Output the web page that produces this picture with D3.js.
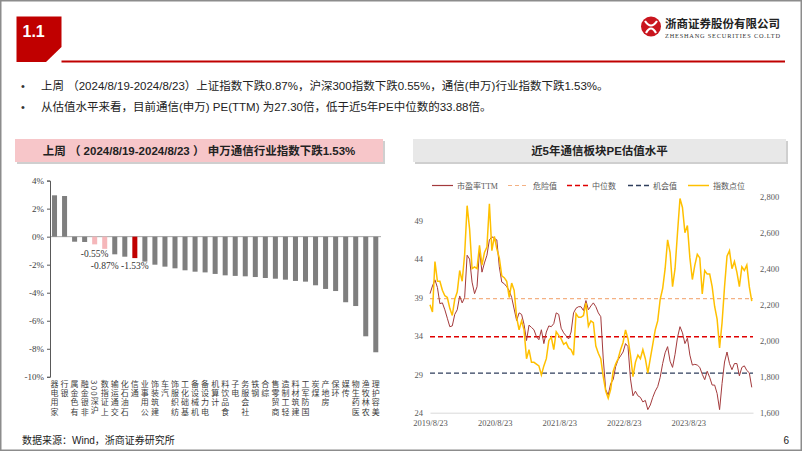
<!DOCTYPE html>
<html lang="zh">
<head>
<meta charset="UTF-8" />
<title>通信行业周报</title>
<script src="https://d3js.org/d3.v7.min.js"></script>
<style>
  body { margin: 0; background: #fff; }
  svg { display: block; font-family: "Liberation Sans", "Noto Sans CJK SC", sans-serif; }
</style>
</head>
<body>
<svg width="802" height="451"></svg>
<script>
// 左图：申万一级行业及指数周涨跌幅（%）
const industries = ["家用电器", "银行", "有色金属", "非银金融", "沪深300", "上证指数", "交通运输", "石油石化",
  "通信", "公用事业", "建筑装饰", "汽车", "纺织服饰", "基础化工", "机械设备", "电力设备", "计算机",
  "食品饮料", "电子", "社会服务", "钢铁", "综合", "商贸零售", "轻工制造", "建筑材料", "国防军工",
  "煤炭", "房地产", "环保", "传媒", "医药生物", "农林牧渔", "美容护理"];
const weeklyChange = [2.95, 2.9, -0.36, -0.38, -0.55, -0.87, -1.26, -1.43,
  -1.53, -1.78, -2.0, -2.14, -2.26, -2.4, -2.5, -2.55, -2.66,
  -2.76, -2.8, -2.83, -2.88, -2.95, -3.0, -3.07, -3.16, -3.21,
  -3.47, -3.73, -3.88, -4.68, -4.95, -7.11, -8.25];
const barTicks = [4, 2, 0, -2, -4, -6, -8, -10];
const labelled = ["沪深300", "上证指数", "通信"];

// 右图：近5年通信板块PE(TTM)与指数点位（双周取值）
const seriesStart = "2019-08-23";
const peTTM = [39.5, 40.5, 41.3, 40.3, 38.2, 38.3, 37.4, 36.3, 35.2, 35.3,
  36.8, 37.4, 39.2, 38.3, 39.0, 44.5, 44.0, 41.0, 39.5, 40.4,
  45.2, 42.3, 43.5, 44.5, 46.5, 46.9, 46.7, 46.5, 43.0, 41.0,
  40.8, 40.4, 39.9, 39.0, 37.5, 36.0, 37.0, 36.8, 35.5, 33.4,
  35.4, 35.1, 34.8, 33.9, 33.5, 34.8, 33.0, 34.5, 35.3, 35.2,
  35.6, 37.0, 36.8, 35.0, 34.4, 34.0, 33.6, 34.5, 37.0, 37.6,
  37.8, 37.8, 37.3, 38.6, 37.4, 37.9, 38.3, 37.8, 37.0, 36.5,
  31.0, 27.0, 26.3, 27.8, 28.3, 30.0, 30.9, 31.4, 31.9, 33.0,
  32.6, 28.4, 26.2, 26.8, 26.2, 26.0, 25.4, 25.6, 24.4, 25.0,
  26.0, 26.8, 27.4, 28.6, 30.4, 31.8, 32.6, 30.7, 29.9, 31.6,
  33.8, 35.2, 34.4, 33.0, 33.7, 31.5, 30.2, 30.3, 30.2, 29.9,
  29.0, 28.3, 29.4, 28.6, 27.6, 27.6, 26.5, 24.4, 27.8, 30.6,
  31.9, 30.4, 29.6, 30.4, 30.4, 28.8, 29.9, 30.1, 29.5, 29.2,
  27.3];
const indexPts = [2200, 2160, 2440, 2330, 2330, 2280, 2250, 2240, 2180, 2140,
  2230, 2270, 2390, 2330, 2480, 2750, 2620, 2400, 2410, 2400,
  2530, 2420, 2490, 2520, 2760, 2500, 2580, 2510, 2460, 2360,
  2350, 2330, 2240, 2320, 2280, 2130, 2060, 2110, 2060, 1900,
  1950, 1880, 1880, 1870, 1860, 1810, 1860, 1900, 2000, 2020,
  1950, 2050, 2030, 2010, 1980, 1990, 1960, 1950, 1920, 2150,
  2130, 2130, 2140, 2210, 2080, 2110, 2100, 1970, 1930, 1900,
  1800, 1720, 1680, 1730, 1830, 1870, 1900, 1950, 1990, 2060,
  2010, 1920, 1800, 1880, 1920, 1900, 1950, 1900, 1820, 1900,
  1980, 2060, 2110, 2230, 2290, 2400, 2560, 2490, 2300, 2400,
  2600, 2790, 2740, 2600, 2640, 2460, 2340, 2420, 2480, 2460,
  2260, 2390, 2370, 2370, 2300, 2190, 2120, 1960, 2100, 2300,
  2470, 2500, 2400, 2440, 2380, 2300, 2410, 2390, 2420, 2300,
  2220];
const dangerPE = 38.85;
const medianPE = 33.88;
const chancePE = 29.15;
const peTicks = [24, 29, 34, 39, 44, 49];
const idxTicks = [1600, 1800, 2000, 2200, 2400, 2600, 2800];
const dateTicks = ["2019-08-23", "2020-08-23", "2021-08-23", "2022-08-23", "2023-08-23"];

const svg = d3.select("svg");
const cjk = "\"Noto Sans CJK SC\", sans-serif";
const serif = "\"Liberation Serif\", \"Noto Sans CJK SC\", serif";

// 页面框
svg.append("rect").attr("x", 0.75).attr("y", 0.75).attr("width", 800.5).attr("height", 449.5)
  .attr("fill", "none").attr("stroke", "#8c8c8c").attr("stroke-width", 1.5);

// 标题块
svg.append("path").attr("d", "M16.5,16.5 H61.5 V47 L46,62 H16.5 Z").attr("fill", "#c00000");
svg.append("text").attr("x", 22.5).attr("y", 37).attr("fill", "#fff")
  .attr("font-size", 16).attr("font-weight", "bold").text("1.1");
svg.append("line").attr("x1", 61.5).attr("x2", 785).attr("y1", 61.5).attr("y2", 61.5)
  .attr("stroke", "#c00000").attr("stroke-width", 1.8);

// logo
const logo = svg.append("g");
logo.append("circle").attr("cx", 651).attr("cy", 26.5).attr("r", 10).attr("fill", "#c9151e");
logo.append("path").attr("d", "M645,21 Q651,30 657,21 M646,33 Q651,24 656,33")
  .attr("fill", "none").attr("stroke", "#fff").attr("stroke-width", 2.2);
logo.append("text").attr("x", 665).attr("y", 28).attr("font-family", cjk)
  .attr("font-size", 11.5).attr("font-weight", "bold").attr("fill", "#222").text("浙商证券股份有限公司");
logo.append("text").attr("x", 665).attr("y", 37.5).attr("font-family", serif)
  .attr("font-size", 6.3).attr("fill", "#333").attr("textLength", 115)
  .text("ZHESHANG SECURITIES CO.LTD");

// 要点
const bullets = [
  "上周 （2024/8/19-2024/8/23）上证指数下跌0.87%，沪深300指数下跌0.55%，通信(申万)行业指数下跌1.53%。",
  "从估值水平来看，目前通信(申万) PE(TTM) 为27.30倍，低于近5年PE中位数的33.88倍。"
];
bullets.forEach((t, i) => {
  const yy = 90 + i * 21;
  svg.append("text").attr("x", 21).attr("y", yy).attr("font-size", 11).attr("fill", "#333").text("•");
  svg.append("text").attr("x", 41).attr("y", yy).attr("font-size", 11.5).attr("fill", "#222").text(t);
});

// 图标题条
function titleBar(x0, w, fill, label) {
  svg.append("rect").attr("x", x0 + 2).attr("y", 141).attr("width", w).attr("height", 23).attr("fill", "#cfcfcf");
  svg.append("rect").attr("x", x0).attr("y", 139).attr("width", w).attr("height", 23).attr("fill", fill);
  svg.append("text").attr("x", x0 + w / 2).attr("y", 155).attr("text-anchor", "middle")
    .attr("font-size", 11.5).attr("font-weight", "bold").attr("fill", "#222").text(label);
}
titleBar(15, 368, "#f7c6c9", "上周 （ 2024/8/19-2024/8/23 ） 申万通信行业指数下跌1.53%");
titleBar(413, 373, "#e8e8e8", "近5年通信板块PE估值水平");

// ---------- 左图 ----------
const bx = d3.scaleBand().domain(industries).range([49.5, 380.8]).paddingInner(0.5).paddingOuter(0.25);
const by = d3.scaleLinear().domain([-10, 4]).range([376.8, 180.6]);

const barColor = d => d === "通信" ? "#c00000" : (d === "沪深300" || d === "上证指数") ? "#f5b7ba" : "#7f7f7f";

svg.append("line").attr("x1", 50).attr("x2", 381).attr("y1", by(0)).attr("y2", by(0))
  .attr("stroke", "#a6a6a6").attr("stroke-width", 1);

svg.append("g").selectAll("rect").data(industries).join("rect")
  .attr("x", d => bx(d))
  .attr("width", bx.bandwidth())
  .attr("y", (d, i) => by(Math.max(0, weeklyChange[i])))
  .attr("height", (d, i) => Math.abs(by(weeklyChange[i]) - by(0)))
  .attr("fill", barColor);

const yAx = svg.append("g").attr("transform", "translate(50,0)")
  .call(d3.axisLeft(by).tickValues(barTicks).tickFormat(d => d + "%").tickSize(3).tickPadding(3));
yAx.select(".domain").attr("stroke", "#595959");
yAx.selectAll(".tick line").attr("stroke", "#595959");
yAx.selectAll("text").attr("font-family", serif).attr("font-size", 9).attr("fill", "#404040");

// 数值标签
const labelDy = [13, 20, 11];
labelled.forEach((name, k) => {
  const i = industries.indexOf(name);
  svg.append("text").attr("x", bx(name) + bx.bandwidth() / 2)
    .attr("y", by(weeklyChange[i]) + labelDy[k])
    .attr("text-anchor", "middle").attr("font-family", serif).attr("font-size", 9.5).attr("fill", "#333")
    .text(weeklyChange[i].toFixed(2) + "%");
});

// 类目标签（竖排，自下而上读）
svg.append("g").selectAll("text").data(industries).join("text")
  .attr("x", d => bx(d) + bx.bandwidth() / 2)
  .attr("y", 380)
  .style("writing-mode", "vertical-rl")
  .style("text-orientation", "mixed")
  .attr("font-family", cjk).attr("font-size", 8).attr("letter-spacing", 1.2)
  .attr("fill", "#404040")
  .text(d => (d.match(/[0-9]+|./g) || []).reverse().join(""));

// ---------- 右图 ----------
const t0 = d3.timeParse("%Y-%m-%d")(seriesStart);
const dates = peTTM.map((v, i) => d3.timeDay.offset(t0, 14 * i));
const parse = d3.timeParse("%Y-%m-%d");
const tx = d3.scaleTime().domain([parse("2019-08-23"), parse("2024-08-23")]).range([430, 753]);
const yL = d3.scaleLinear().domain([24, 54]).range([412.7, 182.3]);
const yR = d3.scaleLinear().domain([1600, 2880]).range([412.7, 182.3]);

const xAx = svg.append("g").attr("transform", "translate(0,412.7)")
  .call(d3.axisBottom(tx).tickValues(dateTicks.map(parse)).tickFormat(d3.timeFormat("%Y/%-m/%d")).tickSize(0).tickPadding(7));
xAx.select(".domain").attr("stroke", "#d9d9d9");
xAx.selectAll("text").attr("font-family", serif).attr("font-size", 8.5).attr("fill", "#595959");

const lAx = svg.append("g").attr("transform", "translate(426,0)")
  .call(d3.axisLeft(yL).tickValues(peTicks).tickSize(0).tickPadding(3));
lAx.select(".domain").remove();
lAx.selectAll("text").attr("font-family", serif).attr("font-size", 8.5).attr("fill", "#595959");

const rAx = svg.append("g").attr("transform", "translate(757,0)")
  .call(d3.axisRight(yR).tickValues(idxTicks).tickFormat(d3.format(",")).tickSize(0).tickPadding(3));
rAx.select(".domain").remove();
rAx.selectAll("text").attr("font-family", serif).attr("font-size", 8.5).attr("fill", "#595959");

// 参考线
const refs = [
  { v: dangerPE, color: "#f4b183", w: 1.2, dash: "4,3" },
  { v: medianPE, color: "#e00000", w: 1.5, dash: "5,3" },
  { v: chancePE, color: "#2f3e5c", w: 1.3, dash: "5,3" }
];
refs.forEach(r => {
  svg.append("line").attr("x1", 430).attr("x2", 753).attr("y1", yL(r.v)).attr("y2", yL(r.v))
    .attr("stroke", r.color).attr("stroke-width", r.w).attr("stroke-dasharray", r.dash);
});

svg.append("path").datum(peTTM)
  .attr("d", d3.line().x((d, i) => tx(dates[i])).y(d => yL(d)))
  .attr("fill", "none").attr("stroke", "#a33a3c").attr("stroke-width", 1);

svg.append("path").datum(indexPts)
  .attr("d", d3.line().x((d, i) => tx(dates[i])).y(d => yR(d)))
  .attr("fill", "none").attr("stroke", "#ffc000").attr("stroke-width", 1.5);

// 图例
const legend = [
  { name: "市盈率TTM", color: "#a33a3c", w: 1.2, dash: null, x: 432 },
  { name: "危险值", color: "#f4b183", w: 1.2, dash: "4,3", x: 508 },
  { name: "中位数", color: "#e00000", w: 1.5, dash: "5,3", x: 567 },
  { name: "机会值", color: "#2f3e5c", w: 1.3, dash: "5,3", x: 628 },
  { name: "指数点位", color: "#ffc000", w: 1.5, dash: null, x: 688 }
];
legend.forEach(l => {
  svg.append("line").attr("x1", l.x).attr("x2", l.x + 21).attr("y1", 185.5).attr("y2", 185.5)
    .attr("stroke", l.color).attr("stroke-width", l.w).attr("stroke-dasharray", l.dash);
  svg.append("text").attr("x", l.x + 25).attr("y", 188.5).attr("font-family", serif)
    .attr("font-size", 8).attr("fill", "#595959").text(l.name);
});

// 页脚
svg.append("text").attr("x", 22).attr("y", 444).attr("font-size", 10).attr("fill", "#222")
  .text("数据来源：Wind，浙商证券研究所");
svg.append("text").attr("x", 789).attr("y", 444).attr("text-anchor", "end").attr("font-size", 10)
  .attr("fill", "#222").text("6");
</script>
</body>
</html>
